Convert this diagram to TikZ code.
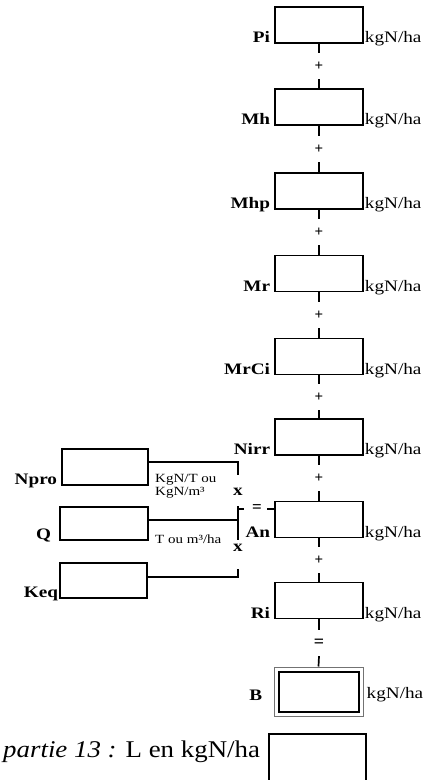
\documentclass[tikz,border=0pt]{standalone}
\usepackage{fontspec}
\setmainfont{Liberation Serif}
\newfontfamily\labfont[FakeStretch=1.2]{Liberation Serif}
\newfontfamily\capfont[FakeStretch=1.12]{Liberation Serif}
\begin{document}
\begin{tikzpicture}[x=1pt,y=-1pt,
  box/.style={draw, line width=1.5pt, minimum width=88pt, minimum height=36pt, inner sep=0},
  lname/.style={anchor=base east, font=\labfont\fontsize{16}{16}\selectfont\bfseries, inner sep=0},
  unit/.style={anchor=base west, font=\labfont\fontsize{16}{16}\selectfont, inner sep=0},
  small/.style={anchor=base west, font=\labfont\fontsize{12.5}{13}\selectfont, inner sep=0},
  op/.style={inner sep=0, minimum height=26pt, font=\fontsize{15}{15}\selectfont\bfseries},
  opx/.style={inner sep=0, font=\labfont\fontsize{16}{16}\selectfont\bfseries},
  link/.style={line width=1.7pt}
]
\useasboundingbox (0,0) rectangle (437,780);

% right column
\foreach \n/\t/\y in {pi/Pi/25, mh/Mh/107, mhp/Mhp/191, mr/Mr/273.5, mrci/MrCi/356.5, nirr/Nirr/437, an/An/519.5, ri/Ri/600.5}{
  \node[box] (\n) at (319,\y) {};
  \node[lname] (l\n) at ([xshift=-4pt,yshift=1pt]\n.south west) {\t};
  \node[unit] (u\n) at ([xshift=1pt,yshift=1pt]\n.south east) {kgN/ha};
}
% B box (double frame)
\node[draw=black!55, line width=1pt, minimum width=89pt, minimum height=49pt, inner sep=0] (b) at (318.5,691.5) {};
\draw[line width=2pt] ([xshift=5pt,yshift=-5pt]b.north west) rectangle ([xshift=-5pt,yshift=5pt]b.south east);
\node[lname, anchor=east] (lb) at ([xshift=-11pt,yshift=-3.5pt]b.west) {B};
\node[unit, anchor=west] (ub) at ([xshift=3pt,yshift=-3.5pt]b.east) {kgN/ha};

% operators between boxes
\foreach \a/\c/\s/\y in {pi/mh/+/66, mh/mhp/+/149, mhp/mr/+/232, mr/mrci/+/315, mrci/nirr/+/397, nirr/an/+/478, an/ri/+/560}{
  \node[op] (o\a) at (319,\y) {\s};
  \draw[link] (\a.south) -- (o\a.north);
  \draw[link] (o\a.south) -- (\c.north);
}
\node[op, font=\fontsize{18}{18}\selectfont\bfseries] (ori) at (319,643) {=};
\draw[link] (ri.south) -- (ori.north);
\draw[link] (ori.south) -- (b.north);

% left column
\node[box, minimum width=86pt] (npro) at (105,467) {};
\node[lname] (lnpro) at ([xshift=-4pt,yshift=1pt]npro.south west) {Npro};
\node[box, minimum height=33pt] (q) at (104,523.5) {};
\node[lname] (lq) at ([xshift=-8pt,yshift=1pt]q.south west) {Q};
\node[box, minimum width=87pt, minimum height=35pt] (keq) at (103.5,580.5) {};
\node[lname] (lkeq) at ([xshift=-1pt,yshift=1pt]keq.south west) {Keq};

\node[small] (t1) at (155,482) {KgN/T ou};
\node[small] (t2) at (155,495) {KgN/m³};
\node[small] (t3) at (155,543) {T ou m³/ha};

\coordinate (v1) at (238,475);
\coordinate (v2) at (238,506);
\coordinate (v3) at (238,540);
\coordinate (v4) at (238,569);
\coordinate (j) at (238,509);
\draw[link] ([yshift=5pt]npro.east) -| (v1);
\draw[link] (v2) -- (v3);
\draw[link] ([yshift=3.5pt]q.east) -- ([yshift=3.5pt]q.east -| v2);
\draw[link] ([yshift=3.5pt]keq.east) -| (v4);
\node[opx] (x1) at (238,492) {x};
\node[opx] (x2) at (238,548) {x};
\node[inner sep=0, font=\fontsize{17}{17}\selectfont\bfseries] (eqa) at (257,509) {=};
\draw[link] (j) -- ++(6,0);
\draw[link] (an.west |- j) -- ++(-7,0);

% L box (cut by the page edge)
\draw[line width=1.5pt] (269,781) -- (269,734) -- (366,734) -- (366,781);
\node[anchor=base west, inner sep=0, font=\capfont\fontsize{24}{24}\selectfont] (cap) at (3,757) {\textit{partie 13 :} L en kgN/ha};
\end{tikzpicture}
\end{document}
